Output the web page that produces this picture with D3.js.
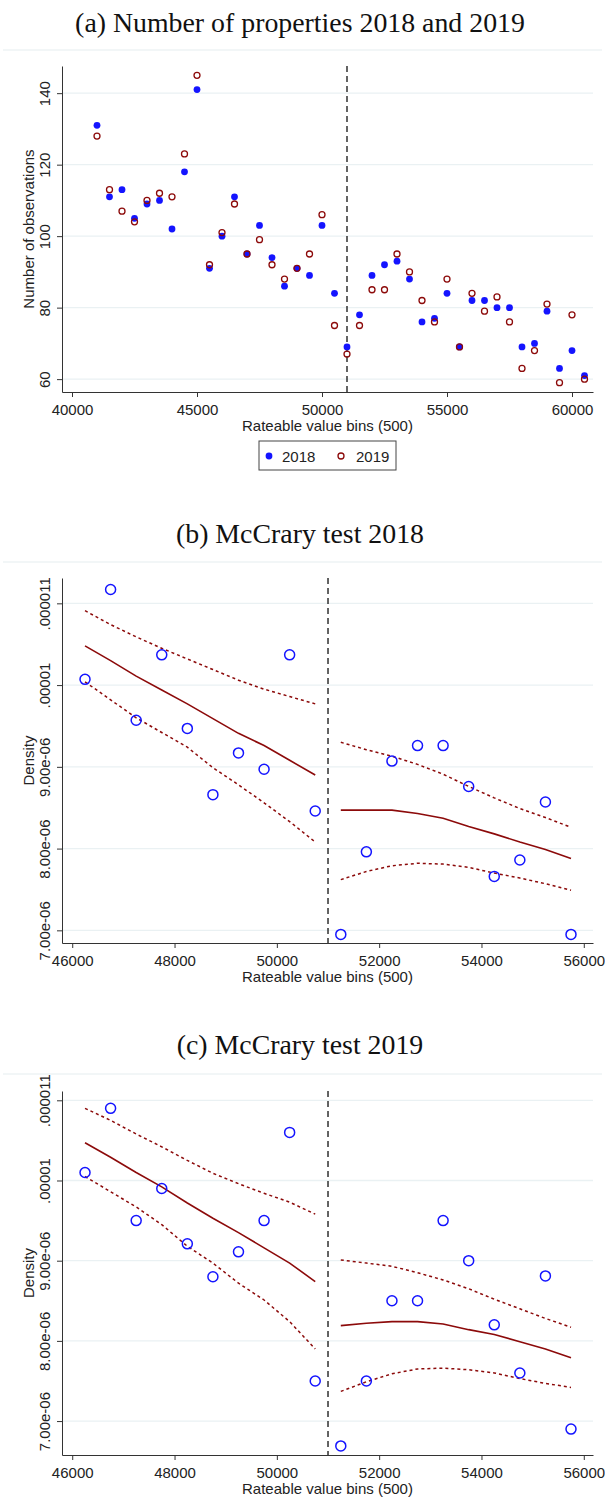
<!DOCTYPE html>
<html><head><meta charset="utf-8">
<script src="https://cdn.jsdelivr.net/npm/d3@7"></script>
<style>body{margin:0;background:#fff} svg{display:block}</style>
</head><body><svg id="c" width="605" height="1508"></svg>
<script>
// ---------------- data ----------------
const titles = ["(a) Number of properties 2018 and 2019", "(b) McCrary test 2018", "(c) McCrary test 2019"];
const xTitle = "Rateable value bins (500)";
const yTitleA = "Number of observations";
const yTitleM = "Density";
const legendLabels = ["2018", "2019"];
const cutoff = 51000;

const binsA = [41000,41500,42000,42500,43000,43500,44000,44500,45000,45500,
               46000,46500,47000,47500,48000,48500,49000,49500,50000,50500,
               51000,51500,52000,52500,53000,53500,54000,54500,55000,55500,
               56000,56500,57000,57500,58000,58500,59000,59500,60000,60500];
const obs2018 = [131,111,113,105,109,110,102,118,141,91,
                 100,111,95,103,94,86,91,89,103,84,
                 69,78,89,92,93,88,76,77,84,69,
                 82,82,80,80,69,70,79,63,68,61];
const obs2019 = [128,113,107,104,110,112,111,123,145,92,
                 101,109,95,99,92,88,91,95,106,75,
                 67,75,85,85,95,90,82,76,88,69,
                 84,79,83,76,63,68,81,59,78,60];
const ticksAx = [40000,45000,50000,55000,60000];
const ticksAy = [60,80,100,120,140];

const binsM = [46250,46750,47250,47750,48250,48750,49250,49750,50250,50750,
               51250,51750,52250,52750,53250,53750,54250,54750,55250,55750];
const density2018 = [10.07e-6,11.17e-6,9.57e-6,10.37e-6,9.47e-6,8.66e-6,9.17e-6,8.97e-6,10.37e-6,8.46e-6,
                     6.95e-6,7.96e-6,9.07e-6,9.26e-6,9.26e-6,8.76e-6,7.66e-6,7.86e-6,8.57e-6,6.95e-6];
const fit2018 = [10.48e-6,10.30e-6,10.11e-6,9.94e-6,9.77e-6,9.59e-6,9.41e-6,9.26e-6,9.08e-6,8.90e-6,
                 8.47e-6,8.47e-6,8.47e-6,8.43e-6,8.37e-6,8.27e-6,8.18e-6,8.08e-6,7.99e-6,7.88e-6];
const hi2018 = [10.91e-6,10.74e-6,10.59e-6,10.45e-6,10.32e-6,10.19e-6,10.06e-6,9.95e-6,9.86e-6,9.77e-6,
                9.30e-6,9.21e-6,9.13e-6,9.03e-6,8.91e-6,8.76e-6,8.62e-6,8.49e-6,8.38e-6,8.26e-6];
const lo2018 = [10.04e-6,9.82e-6,9.60e-6,9.42e-6,9.24e-6,8.99e-6,8.78e-6,8.56e-6,8.33e-6,8.08e-6,
                7.62e-6,7.72e-6,7.79e-6,7.82e-6,7.81e-6,7.77e-6,7.70e-6,7.64e-6,7.57e-6,7.49e-6];

const density2019 = [10.10e-6,10.90e-6,9.50e-6,9.90e-6,9.21e-6,8.80e-6,9.11e-6,9.50e-6,10.60e-6,7.50e-6,
                     6.69e-6,7.50e-6,8.50e-6,8.50e-6,9.50e-6,9.00e-6,8.20e-6,7.60e-6,8.81e-6,6.90e-6];
const fit2019 = [10.47e-6,10.29e-6,10.10e-6,9.92e-6,9.72e-6,9.53e-6,9.35e-6,9.16e-6,8.97e-6,8.74e-6,
                 8.19e-6,8.22e-6,8.24e-6,8.24e-6,8.21e-6,8.14e-6,8.08e-6,7.99e-6,7.90e-6,7.79e-6];
const hi2019 = [10.90e-6,10.75e-6,10.58e-6,10.42e-6,10.25e-6,10.09e-6,9.96e-6,9.84e-6,9.73e-6,9.58e-6,
                9.01e-6,8.97e-6,8.93e-6,8.85e-6,8.76e-6,8.65e-6,8.52e-6,8.40e-6,8.28e-6,8.17e-6];
const lo2019 = [10.05e-6,9.86e-6,9.67e-6,9.45e-6,9.18e-6,8.97e-6,8.72e-6,8.51e-6,8.24e-6,7.90e-6,
                7.37e-6,7.49e-6,7.59e-6,7.65e-6,7.66e-6,7.64e-6,7.60e-6,7.53e-6,7.47e-6,7.42e-6];

const ticksMx = [46000,48000,50000,52000,54000,56000];
const ticksMy = [7e-6,8e-6,9e-6,1e-5,1.1e-5];
const ticksMyLabels = ["7.00e-06","8.00e-06","9.00e-06",".00001",".000011"];

// ---------------- style ----------------
const svg = d3.select("#c");
const FONT = "'Liberation Sans', Arial, sans-serif";
const SERIF = "'Liberation Serif', 'Times New Roman', serif";
const GRID = "#eaf1f3";
const AX = "#333";
const BLUE = "#1414ff";
const MAROON = "#8c0a0a";
const L = 62, R = 593;

// titles & separators
const titleBase = [31.7, 542.6, 1054.3];
const sepY = [50, 562, 1074];
const tt = svg.append("text").attr("font-family", SERIF).attr("font-size", 20).text(titles[0]);
const tw = tt.node().getComputedTextLength();
tt.remove();
const titleSize = 20 * 450 / tw;
titles.forEach((t, i) => {
  svg.append("text").attr("x", 300).attr("y", titleBase[i]).attr("text-anchor", "middle")
    .attr("font-family", SERIF).attr("font-size", titleSize).attr("fill", "#111").text(t);
  svg.append("line").attr("x1", 3).attr("x2", 602).attr("y1", sepY[i]).attr("y2", sepY[i])
    .attr("stroke", "#e6eef0").attr("stroke-width", 1.2);
});

function frame(x, y, top, bottom, xTicks, yTicks, yLabels, yTitle) {
  const g = svg.append("g");
  g.selectAll(null).data(yTicks).join("line")
    .attr("x1", L).attr("x2", R).attr("y1", d => y(d)).attr("y2", d => y(d))
    .attr("stroke", GRID).attr("stroke-width", 1.3);
  const ya = g.append("g").attr("transform", `translate(${L},0)`)
    .call(d3.axisLeft(y).tickValues(yTicks).tickFormat((d, i) => yLabels[i]).tickSize(5).tickSizeOuter(0));
  ya.attr("font-family", FONT).attr("font-size", 15).attr("color", AX);
  ya.selectAll("text").attr("transform", "rotate(-90)").attr("x", 0).attr("y", -11.8)
    .attr("dy", 0).attr("text-anchor", "middle").attr("fill", "#222");
  const xa = g.append("g").attr("transform", `translate(0,${bottom})`)
    .call(d3.axisBottom(x).tickValues(xTicks).tickFormat(d3.format("d")).tickSize(5).tickSizeOuter(0));
  xa.attr("font-family", FONT).attr("font-size", 15).attr("color", AX);
  xa.selectAll("text").attr("y", 23).attr("dy", 0).attr("fill", "#222");
  g.append("text").attr("x", (L + R) / 2).attr("y", bottom + 39).attr("text-anchor", "middle")
    .attr("font-family", FONT).attr("font-size", 15).attr("fill", "#222").text(xTitle);
  g.append("text").attr("transform", `translate(33.5,${(top + bottom) / 2}) rotate(-90)`)
    .attr("text-anchor", "middle").attr("font-family", FONT).attr("font-size", 15)
    .attr("fill", "#222").text(yTitle);
  g.append("line").attr("x1", x(cutoff)).attr("x2", x(cutoff)).attr("y1", top).attr("y2", bottom)
    .attr("stroke", "#111").attr("stroke-width", 1.3).attr("stroke-dasharray", "6,4");
  return g;
}

// ---------------- panel (a) ----------------
{
  const top = 66, bottom = 392;
  const x = d3.scaleLinear().domain([39600, 60840]).range([L, R]);
  const y = d3.scaleLinear().domain([56.4, 147.6]).range([bottom, top]);
  const g = frame(x, y, top, bottom, ticksAx, ticksAy, ticksAy.map(String), yTitleA);
  g.selectAll(null).data(binsA).join("circle")
    .attr("cx", d => x(d)).attr("cy", (d, i) => y(obs2018[i])).attr("r", 3.4).attr("fill", BLUE);
  g.selectAll(null).data(binsA).join("circle")
    .attr("cx", d => x(d)).attr("cy", (d, i) => y(obs2019[i])).attr("r", 3)
    .attr("fill", "none").attr("stroke", MAROON).attr("stroke-width", 1.3);
  // legend
  const lg = svg.append("g");
  lg.append("rect").attr("x", 259).attr("y", 441).attr("width", 137).attr("height", 29)
    .attr("fill", "#fff").attr("stroke", "#444").attr("stroke-width", 1);
  lg.append("circle").attr("cx", 269).attr("cy", 456).attr("r", 3.4).attr("fill", BLUE);
  lg.append("text").attr("x", 282).attr("y", 461.5).attr("font-family", FONT).attr("font-size", 15)
    .attr("fill", "#222").text(legendLabels[0]);
  lg.append("circle").attr("cx", 341).attr("cy", 456).attr("r", 3).attr("fill", "none")
    .attr("stroke", MAROON).attr("stroke-width", 1.3);
  lg.append("text").attr("x", 356).attr("y", 461.5).attr("font-family", FONT).attr("font-size", 15)
    .attr("fill", "#222").text(legendLabels[1]);
}

// ---------------- McCrary panels ----------------
function mccrary(top, bottom, yDomain, dens, fit, hi, lo) {
  const x = d3.scaleLinear().domain([45800, 56180]).range([L, R]);
  const y = d3.scaleLinear().domain(yDomain).range([bottom, top]);
  const g = frame(x, y, top, bottom, ticksMx, ticksMy, ticksMyLabels, yTitleM);
  const idx = binsM.map((d, i) => i);
  const sides = [idx.filter(i => binsM[i] < cutoff), idx.filter(i => binsM[i] > cutoff)];
  const line = arr => d3.line().x(i => x(binsM[i])).y(i => y(arr[i]));
  sides.forEach(s => {
    g.append("path").attr("d", line(hi)(s)).attr("fill", "none").attr("stroke", MAROON)
      .attr("stroke-width", 1.5).attr("stroke-dasharray", "3,3");
    g.append("path").attr("d", line(lo)(s)).attr("fill", "none").attr("stroke", MAROON)
      .attr("stroke-width", 1.5).attr("stroke-dasharray", "3,3");
    g.append("path").attr("d", line(fit)(s)).attr("fill", "none").attr("stroke", MAROON)
      .attr("stroke-width", 1.6);
  });
  g.selectAll(null).data(binsM).join("circle")
    .attr("cx", d => x(d)).attr("cy", (d, i) => y(dens[i])).attr("r", 5)
    .attr("fill", "none").attr("stroke", BLUE).attr("stroke-width", 1.5);
}
mccrary(578, 943, [6.845e-6, 11.31e-6], density2018, fit2018, hi2018, lo2018);
mccrary(1091, 1455, [6.577e-6, 11.116e-6], density2019, fit2019, hi2019, lo2019);
</script>
</body></html>
